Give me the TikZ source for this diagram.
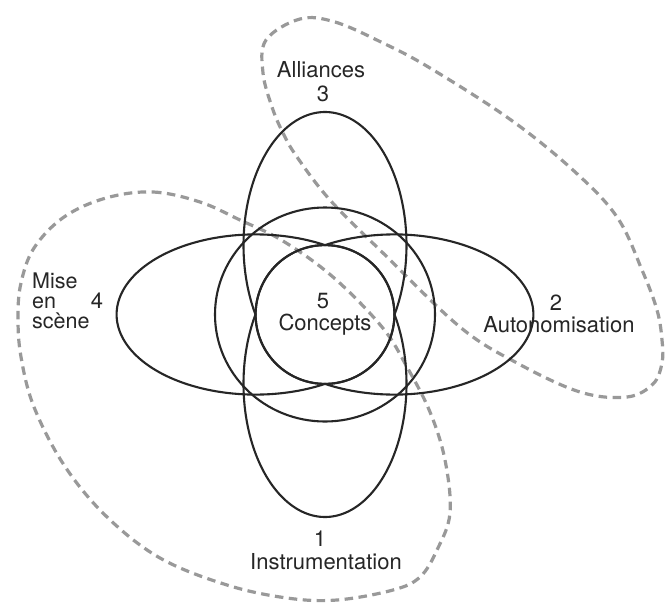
\documentclass[tikz,border=0pt]{standalone}
\usepackage{fontspec}
\setmainfont{TeX Gyre Heros}
\begin{document}
\begin{tikzpicture}[x=1pt,y=-1pt,
  ring/.style={draw=black!85, line width=2.1pt, line join=round},
  blob/.style={draw=black!40, line width=3.2pt, dash pattern=on 8.5pt off 5.5pt},
  lbl/.style={font=\fontsize{22}{22}\selectfont, text=black!85, inner sep=0pt}]
\useasboundingbox (0,0) rectangle (667,608);
\fill[white] (0,0) rectangle (667,608);
% dashed regions
\draw[blob] plot[smooth cycle, tension=0.6] coordinates {
 (300,19) (335,22) (383,43) (430,68) (511,120) (574,171) (617,217) (642,270)
 (657,310) (662,340) (662,363) (653,384) (627,397) (580,392) (517,363)
 (460,327) (383,253) (330,200) (297,157) (283,133) (272,107) (263,73) (266,40)};
\draw[blob] plot[smooth cycle, tension=0.6] coordinates {
 (106,198) (153,192) (200,202) (240,220) (283,241) (333,277) (382,327)
 (407,367) (430,412) (445,460) (450,513) (437,550) (420,577) (393,590)
 (337,600) (287,598) (227,585) (160,558) (106,516) (64,465) (34,407)
 (21,357) (18,317) (21,283) (34,248) (64,217)};
% solid shapes: four ovals meeting in the central circle
\coordinate (c) at (325,314.5);
% 3 Alliances (top)
\draw[ring] plot[domain=-211.4:31.4, samples=160] ({325+81.5*cos(\x)},{245.1+133.1*sin(\x)})
  -- plot[domain=0:180, samples=70] ({325+69.4*cos(\x)},{314.5+69.4*sin(\x)}) -- cycle;
% 1 Instrumentation (bottom)
\draw[ring] plot[domain=-31.4:211.4, samples=160] ({325+81.5*cos(\x)},{383.9+133.1*sin(\x)})
  -- plot[domain=180:360, samples=70] ({325+69.4*cos(\x)},{314.5+69.4*sin(\x)}) -- cycle;
% 4 Mise en scene (left)
\draw[ring] plot[domain=60.05:299.95, samples=160] ({255.6+139*cos(\x)},{314.5+80.1*sin(\x)})
  -- plot[domain=270:450, samples=70] ({325+69.4*cos(\x)},{314.5+69.4*sin(\x)}) -- cycle;
% 2 Autonomisation (right)
\draw[ring] plot[domain=-119.95:119.95, samples=160] ({394.4+139*cos(\x)},{314.5+80.1*sin(\x)})
  -- plot[domain=90:270, samples=70] ({325+69.4*cos(\x)},{314.5+69.4*sin(\x)}) -- cycle;
% 5 Concepts
\draw[ring] (c) ellipse [x radius=110pt, y radius=107pt];
% labels
\node[lbl] (all) at (321,70) {Alliances};
\node[lbl] (n3) at (323,94) {3};
\node[lbl, anchor=west, align=left, font=\fontsize{21.5}{20}\selectfont] (mise) at (32,301) {Mise\\en\\scène};
\node[lbl] (n4) at (97,301) {4};
\node[lbl] (n2) at (556,303) {2};
\node[lbl] (auto) at (559,325) {Autonomisation};
\node[lbl] (n5) at (323,301) {5};
\node[lbl] (conc) at (325,325) {Concepts};
\node[lbl] (n1) at (320,539) {1};
\node[lbl] (inst) at (326,562) {Instrumentation};
\end{tikzpicture}
\end{document}
